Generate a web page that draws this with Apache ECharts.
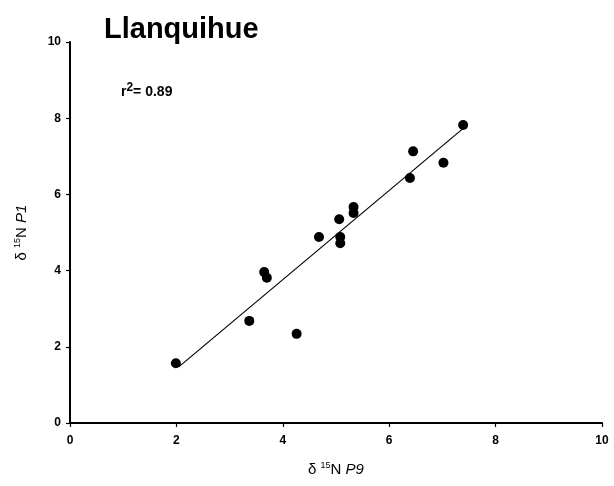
<!DOCTYPE html>
<html>
<head>
<meta charset="utf-8">
<script src="https://cdn.jsdelivr.net/npm/echarts@6/dist/echarts.min.js"></script>
<style>
  html, body { margin: 0; padding: 0; background: #fff; }
  #chart { width: 614px; height: 486px; }
</style>
</head>
<body>
<div id="chart"></div>
<script>
// δ15N of P9 against δ15N of P1, Llanquihue samples
const p9Values = [1.99, 3.37, 4.26, 3.65, 3.70, 4.68, 5.06, 5.08, 5.08, 5.33, 5.33, 6.39, 6.45, 7.02, 7.39];
const p1Values = [1.57, 2.68, 2.34, 3.96, 3.81, 4.88, 5.35, 4.88, 4.72, 5.67, 5.51, 6.43, 7.13, 6.83, 7.82];
// regression line end points
const fitX = [2.05, 7.38];
const fitY = [1.48, 7.72];
const axisTicks = [0, 2, 4, 6, 8, 10];
const rSquared = '0.89';

const points = p9Values.map((x, i) => [x, p1Values[i]]);
const fitLine = fitX.map((x, i) => [x, fitY[i]]);

const chart = echarts.init(document.getElementById('chart'), null, { renderer: 'canvas' });
const font = 'Liberation Sans, Arial, sans-serif';

const axisCommon = {
  min: axisTicks[0],
  max: axisTicks[axisTicks.length - 1],
  interval: 2,
  splitLine: { show: false },
  axisLine: { show: true, lineStyle: { color: '#000', width: 2 } },
  axisTick: { show: true, inside: false, length: 4, lineStyle: { color: '#000', width: 1.2 } },
  axisLabel: { color: '#000', fontFamily: font, fontWeight: 'bold', fontSize: 12 },
  nameLocation: 'middle'
};

const nameRich = {
  d: { fontFamily: font, fontSize: 15, color: '#000' },
  s: { fontFamily: font, fontSize: 9, color: '#000', padding: [0, 0, 8, 0] },
  n: { fontFamily: font, fontSize: 15, color: '#000' },
  i: { fontFamily: font, fontSize: 15, color: '#000', fontStyle: 'italic' }
};

chart.setOption({
  animation: false,
  backgroundColor: '#fff',
  title: {
    text: 'Llanquihue',
    left: 99,
    top: 10,
    textStyle: { fontFamily: font, fontWeight: 'bold', fontSize: 29, color: '#000' }
  },
  grid: { left: 70, right: 12, top: 42, bottom: 63 },
  xAxis: Object.assign({}, axisCommon, {
    type: 'value',
    name: '{d|δ }{s|15}{n|N }{i|P9}',
    nameGap: 38,
    nameTextStyle: { rich: nameRich },
    axisLabel: Object.assign({}, axisCommon.axisLabel, { margin: 12 })
  }),
  yAxis: Object.assign({}, axisCommon, {
    type: 'value',
    name: '{d|δ }{s|15}{n|N }{i|P1}',
    nameGap: 40,
    nameRotate: 90,
    nameTextStyle: { rich: nameRich },
    axisLabel: Object.assign({}, axisCommon.axisLabel, { margin: 9 })
  }),
  graphic: [{
    type: 'text',
    left: 121,
    top: 82,
    style: {
      text: '{r|r}{s|2}{v|= ' + rSquared + '}',
      rich: {
        r: { fontFamily: font, fontSize: 14, fontWeight: 'bold', fill: '#000' },
        s: { fontFamily: font, fontSize: 12, fontWeight: 'bold', fill: '#000', padding: [0, 0, 8, 0] },
        v: { fontFamily: font, fontSize: 14, fontWeight: 'bold', fill: '#000' }
      }
    }
  }],
  series: [
    {
      type: 'line',
      data: fitLine,
      showSymbol: false,
      symbol: 'none',
      lineStyle: { color: '#000', width: 1.2 },
      z: 2
    },
    {
      type: 'scatter',
      data: points,
      symbol: 'circle',
      symbolSize: 10,
      itemStyle: { color: '#000', opacity: 1 },
      z: 3
    }
  ]
});
</script>
</body>
</html>
